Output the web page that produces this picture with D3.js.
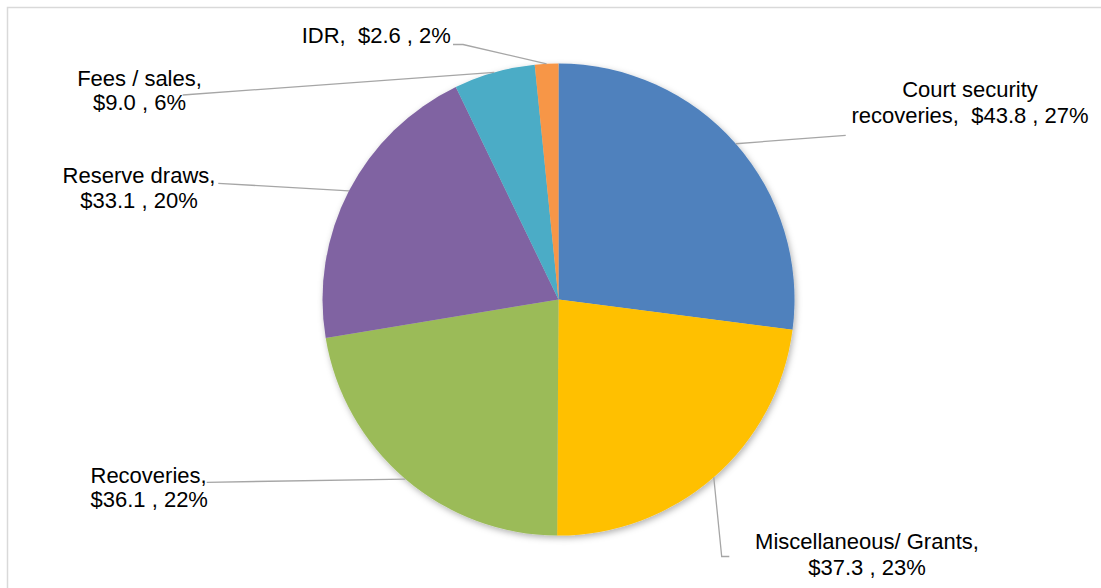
<!DOCTYPE html>
<html>
<head>
<meta charset="utf-8">
<script src="https://cdn.jsdelivr.net/npm/d3@7"></script>
<style>
  html, body { margin: 0; padding: 0; background: #ffffff; }
  svg { display: block; }
  text { font-family: "Liberation Sans", Arial, sans-serif; font-size: 22px; fill: #000000; white-space: pre; }
</style>
</head>
<body>
<svg id="chart" width="1101" height="588"></svg>
<script>
// Revenue sources ($ millions), in drawing order clockwise from 12 o'clock
const categories = ["Court security recoveries", "Miscellaneous/ Grants", "Recoveries", "Reserve draws", "Fees / sales", "IDR"];
const values = [43.8, 37.3, 36.1, 33.1, 9.0, 2.6];
const colors = ["#4F81BD", "#FFC000", "#9BBB59", "#8064A2", "#4BACC6", "#F79646"];
// Label text lines; "{v}" and "{p}" are filled with value and share
const labelLines = [
  ["Court security", "recoveries,  {v} , {p}"],
  ["Miscellaneous/ Grants,", "{v} , {p}"],
  ["Recoveries,", "{v} , {p}"],
  ["Reserve draws,", "{v} , {p}"],
  ["Fees / sales,", "{v} , {p}"],
  ["IDR,  {v} , {p}"]
];

const svg = d3.select("#chart");
const cx = 558.5, cy = 299.5, radius = 236;

// Chart frame
svg.append("rect")
  .attr("x", 7.5).attr("y", 7.5)
  .attr("width", 1300).attr("height", 800)
  .attr("fill", "none").attr("stroke", "#D9D9D9").attr("stroke-width", 1.5);

const defs = svg.append("defs");
const shadow = defs.append("filter").attr("id", "pieShadow")
  .attr("x", "-10%").attr("y", "-10%").attr("width", "120%").attr("height", "120%");
shadow.append("feDropShadow")
  .attr("dx", 1.5).attr("dy", 2.5).attr("stdDeviation", 3)
  .attr("flood-color", "#000").attr("flood-opacity", 0.3);

const total = d3.sum(values);
const data = categories.map((c, i) => ({ name: c, value: values[i], color: colors[i], lines: labelLines[i] }));

const pie = d3.pie().value(d => d.value).sort(null);
const arcs = pie(data);
const arc = d3.arc().innerRadius(0).outerRadius(radius);

const g = svg.append("g").attr("transform", `translate(${cx},${cy})`);
g.append("g").attr("filter", "url(#pieShadow)")
  .selectAll("path")
  .data(arcs)
  .enter().append("path")
  .attr("d", arc)
  .attr("fill", d => d.data.color);

// Point on the rim at the middle of a slice (page coordinates)
function rimPoint(d) {
  const a = (d.startAngle + d.endAngle) / 2;
  return [cx + radius * Math.sin(a), cy - radius * Math.cos(a)];
}

// Label placement: text anchor, line baselines, alignment, and leader bend points
const layout = [
  { x: 970, ys: [97, 122.5], anchor: "middle", leader: [[845.7, 135.3]] },
  { x: 867, ys: [549.3, 575], anchor: "middle", leader: [[721.7, 556.5], [729.3, 556.5]] },
  { x: 90.5, ys: [482.7, 506.7], anchor: "start", leader: [[206.7, 482.3]] },
  { x: 139, ys: [183.3, 208.3], anchor: "middle", leader: [[218.3, 183.3]] },
  { x: 139.5, ys: [86, 110], anchor: "middle", leader: [[182.7, 95]] },
  { x: 301.7, ys: [43.3], anchor: "start", leader: [[463, 44.5], [453, 44.5]] }
];

const fmtVal = v => "$" + d3.format(".1f")(v);
const fmtPct = v => Math.round(v / total * 100) + "%";

const line = d3.line();
arcs.forEach((d, i) => {
  const L = layout[i];
  const pts = [rimPoint(d)].concat(L.leader);
  svg.append("path")
    .attr("d", line(pts))
    .attr("fill", "none")
    .attr("stroke", "#A6A6A6")
    .attr("stroke-width", 1.3);

  d.data.lines.forEach((t, j) => {
    svg.append("text")
      .attr("x", L.x)
      .attr("y", L.ys[j])
      .attr("text-anchor", L.anchor)
      .text(t.replace("{v}", fmtVal(d.data.value)).replace("{p}", fmtPct(d.data.value)));
  });
});
</script>
</body>
</html>
